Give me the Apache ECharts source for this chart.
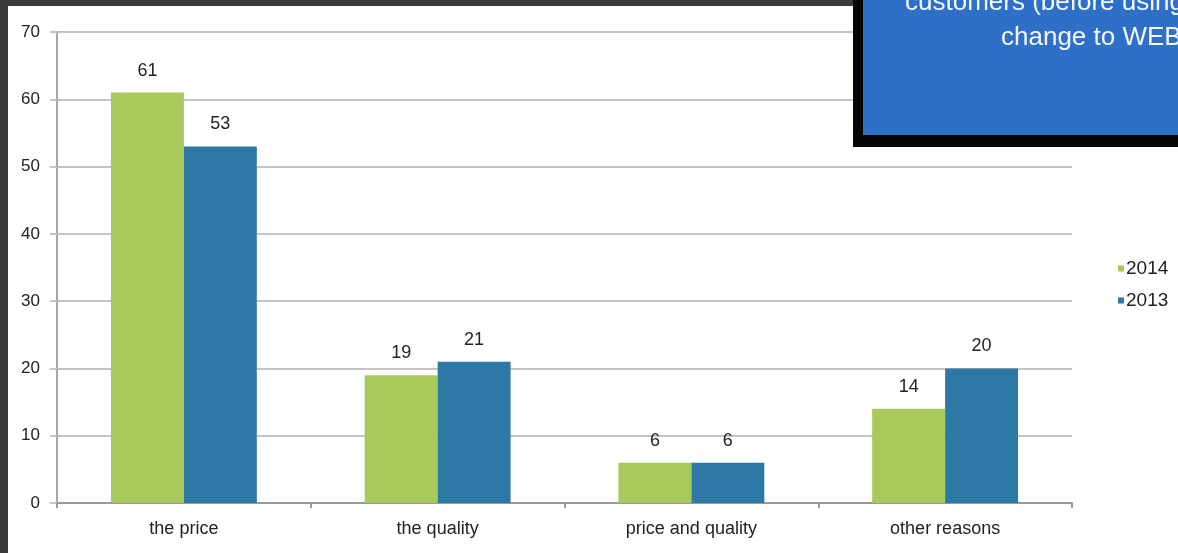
<!DOCTYPE html>
<html>
<head>
<meta charset="utf-8">
<script src="https://cdn.jsdelivr.net/npm/echarts@6/dist/echarts.min.js"></script>
<style>
html,body{margin:0;padding:0;background:#3b3b3b;}
#chart{position:absolute;left:0;top:0;width:1178px;height:553px;}
</style>
</head>
<body>
<div id="chart"></div>
<script>
const categories = ['the price', 'the quality', 'price and quality', 'other reasons'];
const series2014 = [61, 19, 6, 14];
const series2013 = [53, 21, 6, 20];
const seriesNames = ['2014', '2013'];
const yTicks = [0, 10, 20, 30, 40, 50, 60, 70];
const boxLines = ['customers (before using', 'change to WEB'];

const FONT = '"Liberation Sans", Arial, Helvetica, sans-serif';
const chart = echarts.init(document.getElementById('chart'), null, {renderer: 'canvas'});
chart.setOption({
  backgroundColor: '#ffffff',
  animation: false,
  textStyle: {fontFamily: FONT},
  grid: {left: 57, top: 32, right: 106, bottom: 50, containLabel: false},
  legend: {
    orient: 'vertical',
    left: 1113,
    top: 254,
    itemWidth: 6,
    itemHeight: 6,
    itemGap: 13,
    icon: 'rect',
    textStyle: {fontSize: 19, color: '#222', fontFamily: FONT, padding: [0, 0, 0, -3]},
    data: seriesNames
  },
  xAxis: {
    type: 'category',
    data: categories,
    axisLine: {lineStyle: {color: '#9a9a9a', width: 2}},
    axisTick: {show: true, length: 5, lineStyle: {color: '#9a9a9a', width: 2}},
    axisLabel: {fontSize: 18, color: '#222', margin: 17, fontFamily: FONT}
  },
  yAxis: {
    type: 'value',
    min: yTicks[0],
    max: yTicks[yTicks.length - 1],
    interval: yTicks[1] - yTicks[0],
    axisLine: {show: true, lineStyle: {color: '#a8a8a8', width: 2}},
    axisTick: {show: true, length: 7, lineStyle: {color: '#c4c4c4', width: 2}},
    splitLine: {lineStyle: {color: '#c4c4c4', width: 2}},
    axisLabel: {fontSize: 17, color: '#222', margin: 17, fontFamily: FONT}
  },
  series: [
    {
      name: seriesNames[0], type: 'bar', data: series2014,
      barGap: '0%', barCategoryGap: '42.5%',
      itemStyle: {color: '#a8c95c'},
      label: {show: true, position: 'top', distance: 13, fontSize: 18, color: '#222', fontFamily: FONT}
    },
    {
      name: seriesNames[1], type: 'bar', data: series2013,
      barGap: '0%', barCategoryGap: '42.5%',
      itemStyle: {color: '#2e78a5'},
      label: {show: true, position: 'top', distance: 13, fontSize: 18, color: '#222', fontFamily: FONT}
    }
  ],
  graphic: [
    {type: 'rect', z: 100, shape: {x: 0, y: 0, width: 8, height: 553}, style: {fill: '#3b3b3b'}},
    {type: 'rect', z: 100, shape: {x: 0, y: 0, width: 1178, height: 6}, style: {fill: '#3b3b3b'}},
    {type: 'rect', z: 101, shape: {x: 853, y: 0, width: 325, height: 147}, style: {fill: '#050505'}},
    {type: 'rect', z: 102, shape: {x: 863, y: 0, width: 315, height: 135}, style: {fill: '#2e70c7'}},
    {type: 'text', z: 103, x: 905, y: -10, style: {text: boxLines[0], fill: '#f4f7ff', font: '26px ' + FONT}},
    {type: 'text', z: 103, x: 1001, y: 25, style: {text: boxLines[1], fill: '#f4f7ff', font: '26px ' + FONT}}
  ]
});
</script>
</body>
</html>
